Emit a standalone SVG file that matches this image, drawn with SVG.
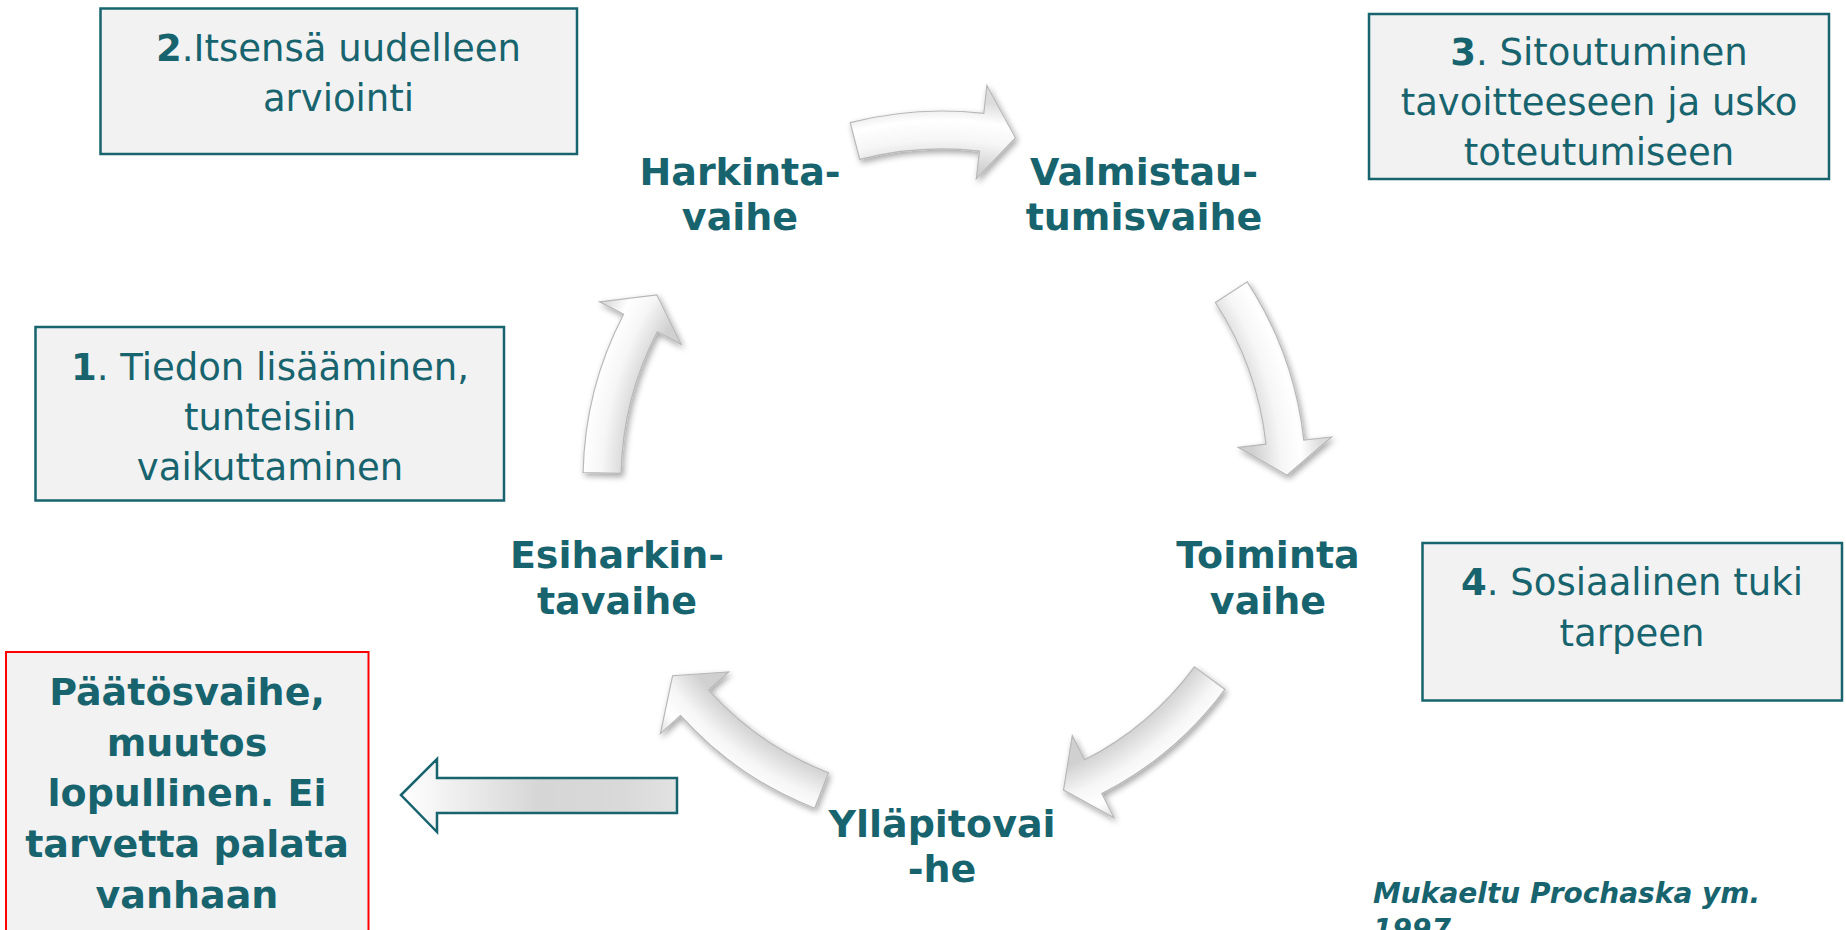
<svg xmlns="http://www.w3.org/2000/svg" width="1846" height="930" viewBox="0 0 1846 930">
<defs>
<style>
.box{fill:#f2f2f2;stroke:#17646e;stroke-width:2.5}
.rbox{fill:#f2f2f2;stroke:#ff0000;stroke-width:2}
.t{font-family:"DejaVu Sans","Liberation Sans",sans-serif;font-size:37px;fill:#17646e;text-anchor:middle}
.b{font-family:"DejaVu Sans","Liberation Sans",sans-serif;font-size:38px;font-weight:bold;fill:#17646e;text-anchor:middle}
.cite{font-family:"DejaVu Sans","Liberation Sans",sans-serif;font-size:28px;font-weight:bold;font-style:italic;fill:#17646e}
.arc{fill:url(#ag);stroke:#b8b8b8;stroke-width:1.2;filter:url(#sh)}
</style>
<radialGradient id="ag" cx="942" cy="480" r="400" gradientUnits="userSpaceOnUse">
<stop offset="0.78" stop-color="#d0d0d0"/>
<stop offset="0.85" stop-color="#f6f6f6"/>
<stop offset="0.9" stop-color="#ffffff"/>
<stop offset="0.95" stop-color="#dcdcdc"/>
</radialGradient>
<linearGradient id="lg" x1="0" y1="0" x2="1" y2="0">
<stop offset="0" stop-color="#ffffff"/>
<stop offset="0.5" stop-color="#d6d6d6"/>
<stop offset="0.8" stop-color="#d9d9d9"/>
<stop offset="1" stop-color="#e2e2e2"/>
</linearGradient>
<filter id="sh" x="-20%" y="-20%" width="140%" height="140%">
<feGaussianBlur in="SourceAlpha" stdDeviation="3"/>
<feOffset dx="2" dy="3" result="o"/>
<feComponentTransfer><feFuncA type="linear" slope="0.35"/></feComponentTransfer>
<feMerge><feMergeNode/><feMergeNode in="SourceGraphic"/></feMerge>
</filter>
</defs>
<rect width="1846" height="930" fill="#ffffff"/>

<g id="connectors">
<path class="arc" d="M850.2,122.6 A369,369 0 0 1 983.8,113.4 L986.9,85.5 L1015.4,137.8 L976.3,178.9 L979.5,151.1 A331,331 0 0 0 859.7,159.4 Z"/>
<path class="arc" d="M1247.3,281.8 A364,364 0 0 1 1303.8,440.1 L1331.6,437 L1287,475.2 L1238.2,447.3 L1266,444.2 A326,326 0 0 0 1215.4,302.5 Z"/>
<path class="arc" d="M1225,689.4 A352,352 0 0 1 1101.8,793.6 L1114.1,817.7 L1063.5,790.1 L1072.3,735.7 L1084.6,759.8 A314,314 0 0 0 1194.4,666.8 Z"/>
<path class="arc" d="M814.7,808.2 A352,352 0 0 1 680.4,715.5 L660.4,733.6 L672.6,675.7 L728.7,672 L708.7,690.1 A314,314 0 0 0 828.5,772.7 Z"/>
<path class="arc" d="M583.1,472.5 A359,359 0 0 1 623.6,314.3 L599.6,301.8 L656.8,294.8 L681.2,344.3 L657.3,331.8 A321,321 0 0 0 621.1,473.3 Z"/>
<path d="M401,795 L437,759 L437,778 L677,778 L677,813 L437,813 L437,832 Z" fill="url(#lg)" stroke="#17646e" stroke-width="2.5" stroke-linejoin="miter"/>
</g>

<g id="box2">
<rect class="box" x="100.5" y="8.5" width="476.5" height="145.5"/>
<text class="t" x="338.5" y="61"><tspan font-weight="bold">2</tspan>.Itsensä uudelleen</text>
<text class="t" x="338.5" y="111">arviointi</text>
</g>

<g id="box1">
<rect class="box" x="35.5" y="327" width="468.5" height="173.5"/>
<text class="t" x="270" y="380"><tspan font-weight="bold">1</tspan>. Tiedon lisääminen,</text>
<text class="t" x="270" y="430">tunteisiin</text>
<text class="t" x="270" y="480">vaikuttaminen</text>
</g>

<g id="box3">
<rect class="box" x="1369" y="14" width="460" height="165"/>
<text class="t" x="1599" y="65"><tspan font-weight="bold">3</tspan>. Sitoutuminen</text>
<text class="t" x="1599" y="115">tavoitteeseen ja usko</text>
<text class="t" x="1599" y="165">toteutumiseen</text>
</g>

<g id="box4">
<rect class="box" x="1422.5" y="543" width="419.5" height="157.5"/>
<text class="t" x="1632" y="595"><tspan font-weight="bold">4</tspan>. Sosiaalinen tuki</text>
<text class="t" x="1632" y="646">tarpeen</text>
</g>

<g id="harkinta">
<text class="b" x="740" y="185">Harkinta-</text>
<text class="b" x="740" y="230">vaihe</text>
</g>

<g id="valmistau">
<text class="b" x="1144" y="185">Valmistau-</text>
<text class="b" x="1144" y="230">tumisvaihe</text>
</g>

<g id="toiminta">
<text class="b" x="1268" y="568">Toiminta</text>
<text class="b" x="1268" y="614">vaihe</text>
</g>

<g id="yllapito">
<text class="b" x="942" y="837">Ylläpitovai</text>
<text class="b" x="942" y="882">-he</text>
</g>

<g id="esiharkinta">
<text class="b" x="617" y="568">Esiharkin-</text>
<text class="b" x="617" y="614">tavaihe</text>
</g>

<g id="paatos">
<rect class="rbox" x="6" y="652" width="362.5" height="290"/>
<text class="b" x="187" y="705">Päätösvaihe,</text>
<text class="b" x="187" y="756">muutos</text>
<text class="b" x="187" y="806">lopullinen. Ei</text>
<text class="b" x="187" y="857">tarvetta palata</text>
<text class="b" x="187" y="908">vanhaan</text>
</g>

<g id="citation">
<text class="cite" x="1373" y="903">Mukaeltu Prochaska ym.</text>
<text class="cite" x="1373" y="939">1997</text>
</g>
</svg>
